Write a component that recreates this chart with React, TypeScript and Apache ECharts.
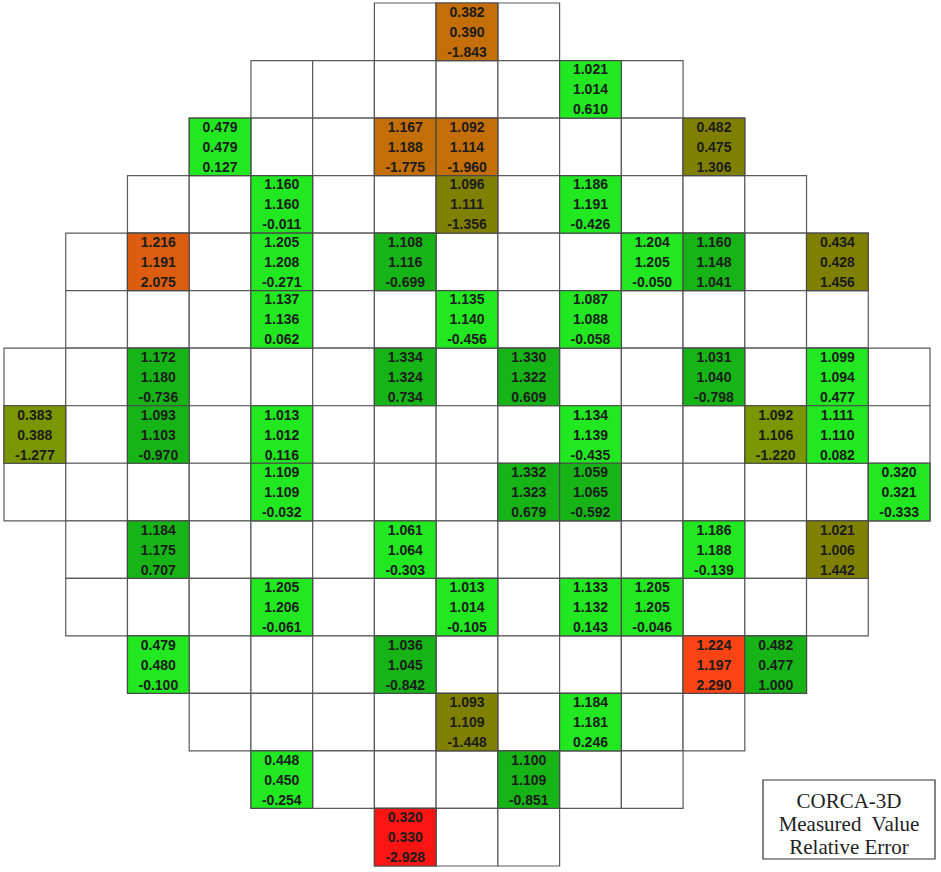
import React, { useEffect, useRef } from "react";
import * as echarts from "echarts";

// Core layout: first and last occupied column of each row (row 0 at top)
const rowFirstCol = [6, 4, 3, 2, 1, 1, 0, 0, 0, 1, 1, 2, 3, 4, 6];
const rowLastCol = [8, 10, 11, 12, 13, 13, 14, 14, 14, 13, 13, 12, 11, 10, 8];

// Measured assemblies
const cellRow = [0, 1, 2, 2, 2, 2, 3, 3, 3, 4, 4, 4, 4, 4, 4, 5, 5, 5, 6, 6, 6, 6, 6, 7, 7, 7, 7, 7, 7, 8, 8, 8, 8, 9, 9, 9, 9, 10, 10, 10, 10, 11, 11, 11, 11, 12, 12, 13, 13, 14];
const cellCol = [7, 9, 3, 6, 7, 11, 4, 7, 9, 2, 4, 6, 10, 11, 13, 4, 7, 9, 2, 6, 8, 11, 13, 0, 2, 4, 9, 12, 13, 4, 8, 9, 14, 2, 6, 11, 13, 4, 7, 9, 10, 2, 6, 11, 12, 7, 9, 4, 8, 6];
const corcaValue = [0.382, 1.021, 0.479, 1.167, 1.092, 0.482, 1.16, 1.096, 1.186, 1.216, 1.205, 1.108, 1.204, 1.16, 0.434, 1.137, 1.135, 1.087, 1.172, 1.334, 1.33, 1.031, 1.099, 0.383, 1.093, 1.013, 1.134, 1.092, 1.111, 1.109, 1.332, 1.059, 0.32, 1.184, 1.061, 1.186, 1.021, 1.205, 1.013, 1.133, 1.205, 0.479, 1.036, 1.224, 0.482, 1.093, 1.184, 0.448, 1.1, 0.32];
const measuredValue = [0.39, 1.014, 0.479, 1.188, 1.114, 0.475, 1.16, 1.111, 1.191, 1.191, 1.208, 1.116, 1.205, 1.148, 0.428, 1.136, 1.14, 1.088, 1.18, 1.324, 1.322, 1.04, 1.094, 0.388, 1.103, 1.012, 1.139, 1.106, 1.11, 1.109, 1.323, 1.065, 0.321, 1.175, 1.064, 1.188, 1.006, 1.206, 1.014, 1.132, 1.205, 0.48, 1.045, 1.197, 0.477, 1.109, 1.181, 0.45, 1.109, 0.33];
const relativeError = [-1.843, 0.61, 0.127, -1.775, -1.96, 1.306, -0.011, -1.356, -0.426, 2.075, -0.271, -0.699, -0.05, 1.041, 1.456, 0.062, -0.456, -0.058, -0.736, 0.734, 0.609, -0.798, 0.477, -1.277, -0.97, 0.116, -0.435, -1.22, 0.082, -0.032, 0.679, -0.592, -0.333, 0.707, -0.303, -0.139, 1.442, -0.061, -0.105, 0.143, -0.046, -0.1, -0.842, 2.29, 1.0, -1.448, 0.246, -0.254, -0.851, -2.928];
const colorLevel = [4, 0, 0, 4, 4, 3, 0, 3, 0, 5, 0, 1, 0, 1, 3, 0, 0, 0, 1, 1, 1, 1, 0, 2, 1, 0, 0, 2, 0, 0, 1, 1, 0, 1, 0, 0, 3, 0, 0, 0, 0, 0, 1, 6, 1, 3, 0, 0, 1, 7];

const legendLines = ["CORCA-3D", "Measured  Value", "Relative Error"];

const palette = ["#22e822", "#17b417", "#7a9600", "#808000", "#c46e08", "#dc5c10", "#fa4416", "#ff1414"];

export default function App() {
  const ref = useRef<HTMLDivElement>(null);
  useEffect(() => {
    if (!ref.current) return;
    const chart = echarts.init(ref.current, undefined, { renderer: "svg" });

    const blankData: number[][] = [];
    rowFirstCol.forEach((first, r) => {
      for (let c = first; c <= rowLastCol[r]; c++) blankData.push([c, r]);
    });
    const valueData = cellRow.map((r, i) => [
      cellCol[i], r, colorLevel[i], corcaValue[i], measuredValue[i], relativeError[i],
    ]);

    const cellRect = (api: any) => {
      const p0 = api.coord([api.value(0), api.value(1)]);
      const p1 = api.coord([api.value(0) + 1, api.value(1) + 1]);
      return { x: p0[0], y: p0[1], width: p1[0] - p0[0], height: p1[1] - p0[1] };
    };

    const option: any = {
      animation: false,
      grid: { left: 4, top: 3, width: 926, height: 863 },
      xAxis: { type: "value", min: 0, max: 15, show: false },
      yAxis: { type: "value", min: 0, max: 15, inverse: true, show: false },
      series: [
        {
          type: "custom",
          data: blankData,
          silent: true,
          renderItem: (_p: any, api: any) => ({
            type: "rect",
            shape: cellRect(api),
            style: { fill: "#ffffff", stroke: "#5a5a5a", lineWidth: 1.2 },
          }),
        },
        {
          type: "custom",
          data: valueData,
          silent: true,
          renderItem: (_p: any, api: any) => {
            const s = cellRect(api);
            const cx = s.x + s.width / 2;
            const cy = s.y + s.height / 2;
            const vals = [api.value(3), api.value(4), api.value(5)];
            return {
              type: "group",
              children: [
                {
                  type: "rect",
                  shape: s,
                  style: { fill: palette[api.value(2)], stroke: "#4a4a4a", lineWidth: 1.2 },
                },
                ...vals.map((v: number, k: number) => ({
                  type: "text",
                  style: {
                    text: Number(v).toFixed(3),
                    x: cx,
                    y: cy + (k - 1) * 20,
                    align: "center",
                    verticalAlign: "middle",
                    font: "bold 14px 'Liberation Sans', Arial, sans-serif",
                    fill: "#1c1c1c",
                  },
                })),
              ],
            };
          },
        },
      ],
      graphic: [
        {
          type: "rect",
          shape: { x: 763, y: 780, width: 172, height: 79 },
          style: { fill: "#ffffff", stroke: "#333333", lineWidth: 1.2 },
        },
        ...legendLines.map((t, k) => ({
          type: "text",
          style: {
            text: t,
            x: 849,
            y: 801 + k * 23,
            align: "center",
            verticalAlign: "middle",
            font: "21px 'Liberation Serif', 'Times New Roman', serif",
            fill: "#222222",
          },
        })),
      ],
    };
    chart.setOption(option);
    return () => chart.dispose();
  }, []);
  return (
    <div
      ref={ref}
      style={{ position: "fixed", left: 0, top: 0, width: 941, height: 872, background: "#ffffff" }}
    />
  );
}
